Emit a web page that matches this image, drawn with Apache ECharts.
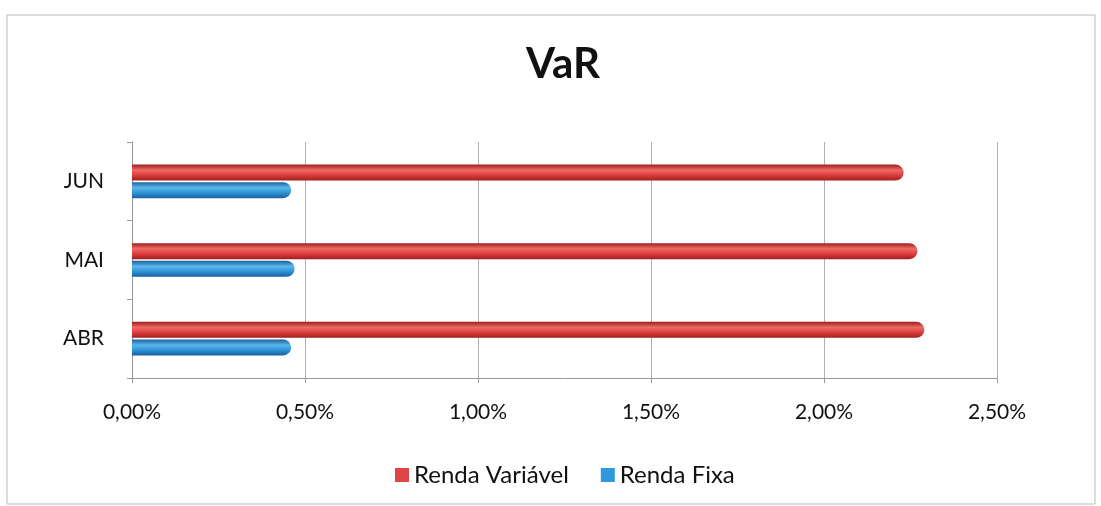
<!DOCTYPE html>
<html>
<head>
<meta charset="utf-8">
<script src="https://cdn.jsdelivr.net/npm/echarts@6/dist/echarts.min.js"></script>
<style>
  html, body { margin: 0; padding: 0; background: #fff; }
  #main { width: 1101px; height: 506px; }
</style>
</head>
<body>
<div id="main"></div>
<script>
// categorias (de baixo para cima)
var categories = ['ABR', 'MAI', 'JUN'];
// VaR em %
var rendaVariavel = [2.29, 2.27, 2.23];
var rendaFixa = [0.46, 0.47, 0.46];

var chart = echarts.init(document.getElementById('main'));

// sombreado tipo cilindro
function cylinder(dark, mid, light) {
  return new echarts.graphic.LinearGradient(0, 0, 0, 1, [
    { offset: 0, color: dark },
    { offset: 0.35, color: light },
    { offset: 0.7, color: mid },
    { offset: 1, color: dark }
  ]);
}

chart.setOption({
  animation: false,
  textStyle: { fontFamily: 'Lato, "Open Sans", sans-serif' },
  title: {
    text: 'VaR',
    left: 558,
    top: 38,
    textAlign: 'center',
    textStyle: { fontSize: 42, fontWeight: 'bold', color: '#111' }
  },
  graphic: [{
    type: 'rect',
    shape: { x: 7, y: 15, width: 1088, height: 489 },
    style: { fill: 'none', stroke: '#b8b8b8', lineWidth: 1 },
    silent: true
  }],
  legend: {
    left: 390,
    top: 458,
    itemWidth: 14,
    itemHeight: 14,
    itemGap: 32,
    icon: 'rect',
    textStyle: { fontSize: 24, color: '#111' },
    data: [
      { name: 'Renda Variável', itemStyle: { color: '#e04444' } },
      { name: 'Renda Fixa', itemStyle: { color: '#2f97dc' } }
    ]
  },
  grid: { left: 132, right: 104, top: 142, bottom: 128 },
  xAxis: {
    type: 'value',
    min: 0,
    max: 2.5,
    interval: 0.5,
    axisLine: { show: true, lineStyle: { color: '#999' } },
    axisTick: { show: true, length: 5, lineStyle: { color: '#999' } },
    splitLine: { show: true, lineStyle: { color: '#b0b0b0', width: 1 } },
    axisLabel: {
      fontSize: 21,
      color: '#111',
      margin: 24,
      formatter: function (v) { return v.toFixed(2).replace('.', ',') + '%'; }
    }
  },
  yAxis: {
    type: 'category',
    data: categories,
    axisLine: { show: true, lineStyle: { color: '#999' } },
    axisTick: { show: true, length: 5, lineStyle: { color: '#999' } },
    axisLabel: { fontSize: 21, color: '#111', margin: 28 }
  },
  series: [
    {
      name: 'Renda Variável',
      type: 'bar',
      data: rendaVariavel,
      barWidth: 16,
      barGap: '10%',
      itemStyle: {
        color: cylinder('#9e1f1f', '#d9393a', '#ef6a62'),
        borderRadius: [0, 8, 8, 0]
      }
    },
    {
      name: 'Renda Fixa',
      type: 'bar',
      data: rendaFixa,
      barWidth: 16,
      barGap: '10%',
      itemStyle: {
        color: cylinder('#1c5f9c', '#2a8fd2', '#5ab7ec'),
        borderRadius: [0, 8, 8, 0]
      }
    }
  ]
});
</script>
</body>
</html>
